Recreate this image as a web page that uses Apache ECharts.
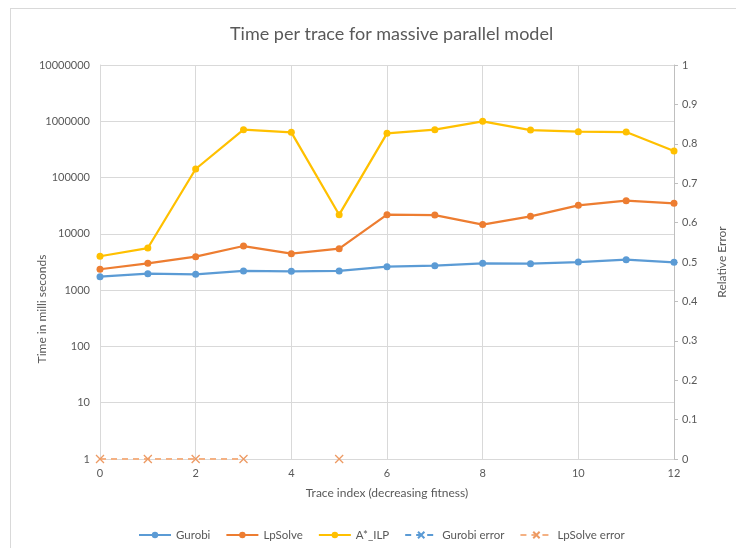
<html>
<head>
<meta charset="utf-8">
<title>Time per trace</title>
<script src="https://cdn.jsdelivr.net/npm/echarts@6/dist/echarts.min.js"></script>
<style>
body{margin:0;background:#fff;}
#frame{position:absolute;left:10px;top:8px;width:760px;height:600px;border:1px solid #d9d9d9;}
#chart{position:absolute;left:0;top:0;width:736px;height:548px;}
</style>
</head>
<body>
<div id="frame"></div>
<div id="chart"></div>
<script type="text/javascript">
// trace index (decreasing fitness)
var traces = [0,1,2,3,4,5,6,7,8,9,10,11,12];
// time in ms
var gurobi  = [1730,1960,1910,2190,2160,2190,2610,2720,3000,2950,3160,3470,3120];
var lpsolve = [2350,3000,3930,6080,4440,5450,21900,21600,14600,20500,32100,38800,34900];
var astar   = [4000,5600,142000,708000,636000,21900,611000,708000,998000,699000,653000,645000,296000];
// relative error (right axis), null = no point
var gurobiErr  = [null,null,null,null,null,null,null,null,null,null,null,null,null];
var lpsolveErr = [0,0,0,0,null,0,null,null,null,null,null,null,null];

function pairs(vals){
	return traces.map(function(t,i){ return [t, vals[i]]; });
}

var txt = '#595959';
var cross = 'path://M0,0L10,10M10,0L0,10';

var myChart = echarts.init(document.getElementById('chart'));
option = {
	animation:false,
	textStyle:{fontFamily:'Lato'},
	title:{
		text:'Time per trace for massive parallel model',
		left:225,
		top:20,
		textStyle:{fontSize:18,fontWeight:'normal',color:txt,fontFamily:'Lato'}
	},
	grid:{left:100,right:59,top:65,bottom:89},
	legend:{
		bottom:2,
		left:133,
		itemWidth:32,
		itemHeight:8,
		itemGap:15,
		textStyle:{color:txt,fontSize:11.5},
		data:['Gurobi','LpSolve','A*_ILP','Gurobi error','LpSolve error']
	},
	xAxis:{
		type:'value',
		min:0,max:12,interval:2,
		name:'Trace index (decreasing fitness)',
		nameLocation:'middle',
		nameGap:28,
		nameTextStyle:{color:txt,fontSize:12},
		axisLine:{lineStyle:{color:'#d9d9d9'}},
		axisTick:{show:false},
		axisLabel:{color:txt,fontSize:11,margin:9},
		splitLine:{lineStyle:{color:'#d9d9d9'}}
	},
	yAxis:[
		{
			type:'log',
			logBase:10,
			min:1,max:10000000,
			name:'Time in milli seconds',
			nameLocation:'middle',
			nameGap:52,
			nameMoveOverlap:false,
			nameTextStyle:{color:txt,fontSize:12,padding:[0,94,0,0]},
			axisLine:{show:true,lineStyle:{color:'#d9d9d9'}},
			axisTick:{show:false},
			axisLabel:{color:txt,fontSize:11,margin:10,formatter:function(v){ return String(Math.round(v)); }},
			splitLine:{lineStyle:{color:'#d9d9d9'}}
		},
		{
			type:'value',
			min:0,max:1,interval:0.1,
			position:'right',
			name:'Relative Error',
			nameLocation:'middle',
			nameGap:42,
			nameMoveOverlap:false,
			nameTextStyle:{color:txt,fontSize:12},
			axisLine:{show:true,lineStyle:{color:'#bfbfbf'}},
			axisTick:{show:true,length:4,lineStyle:{color:'#bfbfbf'}},
			axisLabel:{color:txt,fontSize:11,margin:8},
			splitLine:{show:false}
		}
	],
	series:[
		{
			name:'Gurobi',type:'line',yAxisIndex:0,
			symbol:'circle',symbolSize:7,
			lineStyle:{color:'#5b9bd5',width:2.25},
			itemStyle:{color:'#5b9bd5'},
			data:pairs(gurobi)
		},
		{
			name:'LpSolve',type:'line',yAxisIndex:0,
			symbol:'circle',symbolSize:7,
			lineStyle:{color:'#ed7d31',width:2.25},
			itemStyle:{color:'#ed7d31'},
			data:pairs(lpsolve)
		},
		{
			name:'A*_ILP',type:'line',yAxisIndex:0,
			symbol:'circle',symbolSize:7,
			lineStyle:{color:'#ffc000',width:2.25},
			itemStyle:{color:'#ffc000'},
			data:pairs(astar)
		},
		{
			name:'Gurobi error',type:'line',yAxisIndex:1,
			symbol:cross,symbolSize:8,
			lineStyle:{color:'#5b9bd5',width:2,type:[6,5]},
			itemStyle:{color:'rgba(0,0,0,0)',borderColor:'#5b9bd5',borderWidth:1.3},
			data:pairs(gurobiErr)
		},
		{
			name:'LpSolve error',type:'line',yAxisIndex:1,
			symbol:cross,symbolSize:8,
			lineStyle:{color:'#f4b183',width:2,type:[6,5]},
			itemStyle:{color:'rgba(0,0,0,0)',borderColor:'#ed9a63',borderWidth:1.3},
			data:pairs(lpsolveErr)
		}
	]
};
myChart.setOption(option);
</script>
</body>
</html>
